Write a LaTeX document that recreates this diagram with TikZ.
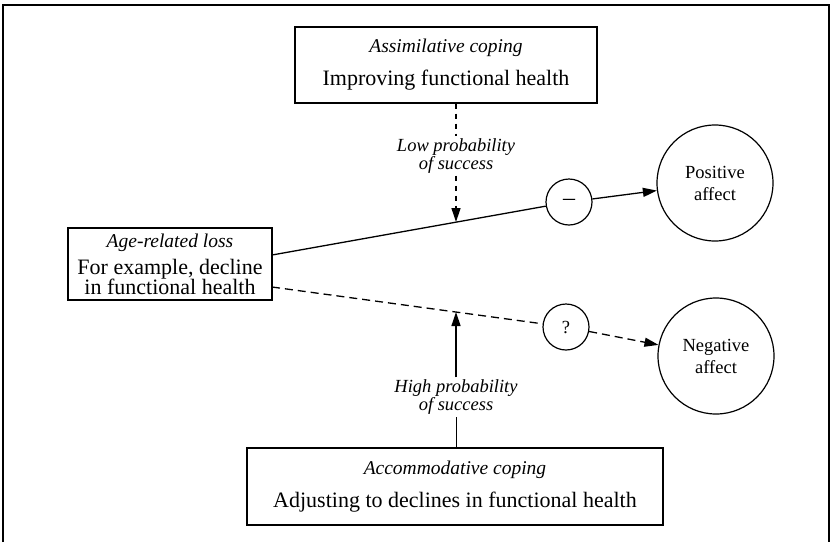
\documentclass[tikz,border=0pt]{standalone}
\usepackage{fontspec}
\setmainfont{Liberation Serif}
\usetikzlibrary{arrows.meta}
\newcommand\boxhead[1]{{\fontsize{19.5}{20}\selectfont\itshape #1}}
\begin{document}
\begin{tikzpicture}[x=1pt,y=-1pt,
  box/.style={draw,line width=1.3pt,rectangle,align=center,inner sep=0pt,
    font=\fontsize{22}{22}\selectfont},
  bubble/.style={draw,line width=1.2pt,circle,inner sep=0pt,align=center,
    font=\fontsize{18.5}{22}\selectfont},
  link/.style={line width=1.3pt},
  tip/.style={-{Triangle[length=14pt,width=9pt]}},
  longdash/.style={dash pattern=on 8pt off 5pt},
  shortdash/.style={dash pattern=on 5pt off 5pt},
  cond/.style={align=center,inner sep=2pt,font=\fontsize{18.5}{17}\selectfont\itshape}
]
\useasboundingbox (0,0) rectangle (832,542);

% outer frame
\draw[line width=1.1pt] (3,542) -- (3,5) -- (829,5) -- (829,542);

% boxes
\node[box,minimum width=302pt,minimum height=76pt] (assim) at (446,65)
  {\boxhead{Assimilative coping}\\[11pt] Improving functional health};
\node[box,minimum width=204pt,minimum height=72pt] (loss) at (170,264)
  {\boxhead{Age-related loss}\\[5pt] For example, decline\\[-2pt] in functional health};
\node[box,minimum width=416pt,minimum height=77pt] (accom) at (455,486.5)
  {\boxhead{Accommodative coping}\\[11pt] Adjusting to declines in functional health};

% outcome circles
\node[bubble,minimum size=116pt] (pos) at (715,183) {Positive\\ affect};
\node[bubble,minimum size=116pt] (neg) at (716,356) {Negative\\ affect};
\node[bubble,minimum size=46pt,font=\fontsize{24}{24}\selectfont] (minus) at (569,202) {--};
\node[bubble,minimum size=46pt] (quest) at (566,327) {?};

% ports on the loss box
\coordinate (lossA) at (272,255);
\coordinate (lossB) at (272,287);
% points where the moderator arrows meet the paths
\coordinate (hitA) at (456,222);
\coordinate (hitB) at (456,312);

% main paths
\draw[link] (lossA) -- (minus);
\draw[link,tip] (minus) -- (pos);
\draw[link,longdash] (lossB) -- (quest);
\draw[link,longdash,tip] (quest) -- (neg);

% moderators
\node[cond] (low) at (456,156) {Low probability\\ of success};
\node[cond] (high) at (456,397) {High probability\\ of success};
\draw[link,shortdash] (assim.south -| low) -- (low.north);
\draw[link,shortdash,tip] (low.south) -- (hitA);
\draw[line width=0.8pt] (accom.north -| high) -- (high.south);
\draw[link,tip] (high.north) -- (hitB);
\end{tikzpicture}
\end{document}
